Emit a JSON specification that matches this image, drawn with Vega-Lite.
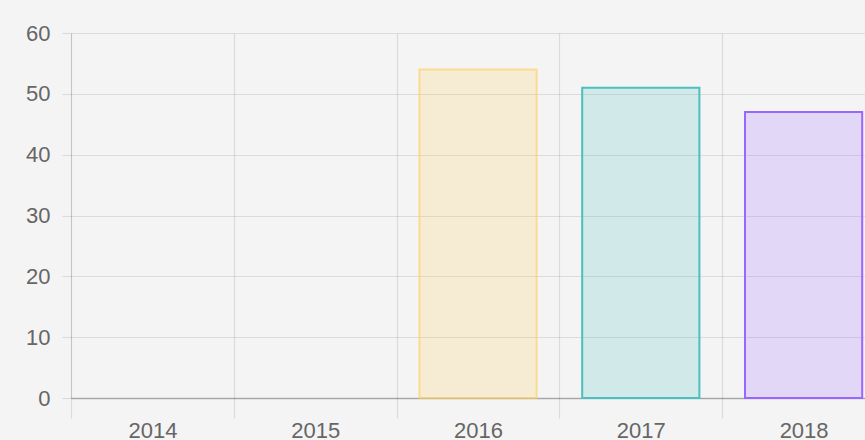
{
  "$schema": "https://vega.github.io/schema/vega-lite/v6.json",
  "autosize": {"type": "none"},
  "padding": {"left": 71, "top": 33, "right": 0, "bottom": 42},
  "width": 794,
  "height": 365,
  "background": "#f4f4f4",
  "config": {
    "view": {"stroke": null},
    "font": "Liberation Sans",
    "axis": {
      "labelFont": "Liberation Sans",
      "labelFontSize": 22,
      "labelColor": "#666666",
      "gridColor": "#000000",
      "gridOpacity": 0.1,
      "gridWidth": 1.2,
      "tickColor": "#000000",
      "tickOpacity": 0.1,
      "tickWidth": 1.2,
      "title": null
    }
  },
  "data": {
    "values": [
      {"year": "2016", "value": 54},
      {"year": "2017", "value": 51},
      {"year": "2018", "value": 47}
    ]
  },
  "mark": {"type": "bar", "strokeWidth": 2, "width": {"band": 0.72}},
  "encoding": {
    "x": {
      "field": "year",
      "type": "nominal",
      "scale": {
        "domain": ["2014", "2015", "2016", "2017", "2018"],
        "range": [0, 814],
        "paddingInner": 0,
        "paddingOuter": 0
      },
      "axis": {
        "tickBand": "extent",
        "grid": true,
        "labelAngle": 0,
        "tickSize": 20,
        "labelPadding": 2,
        "domainColor": "#000000",
        "domainOpacity": 0.25,
        "domainWidth": 1.5
      }
    },
    "y": {
      "field": "value",
      "type": "quantitative",
      "scale": {"domain": [0, 60], "nice": false},
      "axis": {
        "values": [0, 10, 20, 30, 40, 50, 60],
        "grid": true,
        "tickSize": 9,
        "labelPadding": 12,
        "domainColor": "#000000",
        "domainOpacity": 0.1
      }
    },
    "fill": {
      "field": "year",
      "type": "nominal",
      "scale": {
        "domain": ["2016", "2017", "2018"],
        "range": ["rgba(255,206,86,0.2)", "rgba(75,192,192,0.2)", "rgba(153,102,255,0.2)"]
      },
      "legend": null
    },
    "stroke": {
      "field": "year",
      "type": "nominal",
      "scale": {
        "domain": ["2016", "2017", "2018"],
        "range": ["rgba(255,206,86,0.6)", "rgba(75,192,192,1)", "rgba(153,102,255,1)"]
      },
      "legend": null
    }
  }
}
